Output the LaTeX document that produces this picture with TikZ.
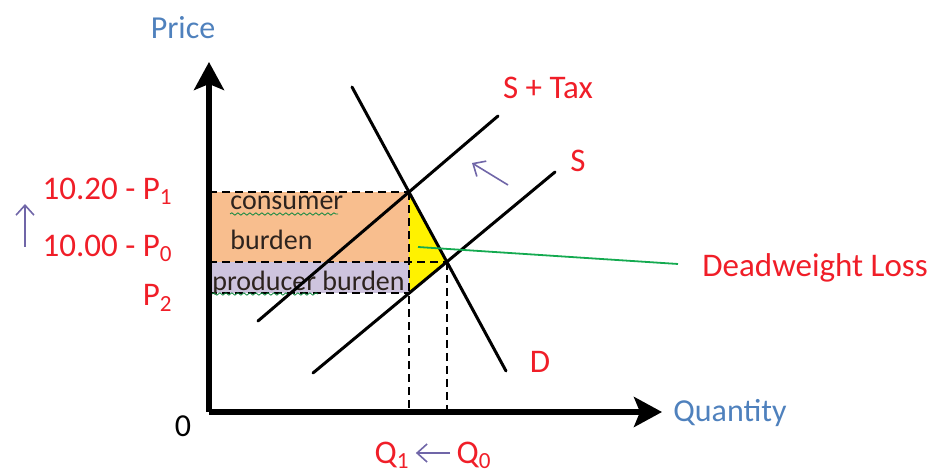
\documentclass[tikz,border=0pt]{standalone}
\usepackage{fontspec}
\setmainfont{Carlito}
\usetikzlibrary{arrows.meta,decorations.pathmorphing,calc}
\definecolor{lblred}{RGB}{240,30,40}
\definecolor{axblue}{RGB}{79,129,189}
\definecolor{arrpurple}{RGB}{112,102,168}
\definecolor{consorange}{RGB}{248,190,142}
\definecolor{prodpurple}{RGB}{206,196,222}
\definecolor{dwlgreen}{RGB}{20,170,80}
\definecolor{boxtext}{RGB}{45,35,30}
\begin{document}
\begin{tikzpicture}[x=0.5pt,y=-0.5pt,
  axis/.style={line width=2.6pt,-{Stealth[length=14pt,width=15pt,inset=3pt]}},
  curve/.style={line width=1.5pt,line cap=round},
  guide/.style={dash pattern=on 4pt off 2.5pt,line width=0.8pt},
  redlbl/.style={text=lblred,font=\fontsize{16.5}{19}\selectfont,inner sep=0pt},
  bluelbl/.style={text=axblue,font=\fontsize{16}{19}\selectfont,inner sep=0pt},
  boxtxt/.style={text=boxtext,font=\fontsize{14}{17}\selectfont,inner sep=0pt},
  shiftarrow/.style={draw=arrpurple,line width=0.8pt,-{Straight Barb[length=5pt,width=9pt]}},
  squiggle/.style={draw=dwlgreen!80!black,line width=0.4pt,decorate,decoration={snake,amplitude=0.6pt,segment length=3pt}}
]
\useasboundingbox (0,0) rectangle (935,474);
% key coordinates
\coordinate (O) at (209,412);
\coordinate (Ytop) at (209,62);
\coordinate (Xend) at (662,412);
\coordinate (D1) at (352,87);
\coordinate (D2) at (506,371);
\coordinate (T1) at (258,321);
\coordinate (T2) at (498,116);
\coordinate (S1) at (313,373);
\coordinate (S2) at (555,172);
\coordinate (E1) at (intersection of D1--D2 and T1--T2);
\coordinate (E0) at (intersection of D1--D2 and S1--S2);
\coordinate (Q1b) at (E1 |- O);
\coordinate (P2pt) at (intersection of S1--S2 and E1--Q1b);
\coordinate (Q0b) at (E0 |- O);
\coordinate (P1a) at (O |- E1);
\coordinate (P0a) at (O |- E0);
\coordinate (P2a) at (O |- P2pt);
% burden areas
\fill[consorange] (P1a) rectangle (E1 |- E0);
\fill[prodpurple] (P0a) rectangle (P2pt);
\fill[yellow] (E1) -- (E0) -- (P2pt) -- cycle;
% guides
\draw[guide] (P1a) -- (E1);
\draw[guide] (P0a) -- (E0);
\draw[guide] (P2a) -- (P2pt);
\draw[guide] (E1) -- (Q1b);
\draw[guide] (E0) -- (Q0b);
% box texts
\node[boxtxt,anchor=west] (cons) at (230,203) {consumer};
\node[boxtxt,anchor=west] (burd) at (230,240) {burden};
\node[boxtxt,anchor=west] (prod) at (212,283) {producer burden};
\draw[squiggle] (230,214) -- (338,214);
\draw[squiggle] (212,294) -- (318,294);
% curves
\draw[curve] (D1) -- (D2);
\draw[curve] (T1) -- (T2);
\draw[curve] (S1) -- (S2);
% axes
\draw[axis] (O) -- (Ytop);
\draw[axis] (O) -- (Xend);
% labels
\node[bluelbl] (price) at (183,28) {Price};
\node[bluelbl,anchor=west] (qty) at (673,413) {Quantity};
\node[text=black,font=\fontsize{16}{19}\selectfont,inner sep=0pt] (zero) at (183,426) {0};
\node[redlbl,anchor=east] (p1) at (173,191) {10.20 - P\textsubscript{1}};
\node[redlbl,anchor=east] (p0) at (173,248) {10.00 - P\textsubscript{0}};
\node[redlbl,anchor=east] (p2) at (173,298) {P\textsubscript{2}};
\node[redlbl] (stax) at (548,88) {S + Tax};
\node[redlbl] (slbl) at (578,161) {S};
\node[redlbl] (dlbl) at (540,362) {D};
\node[redlbl,anchor=west] (dwl) at (702,268) {Deadweight Loss};
\node[redlbl] (q1) at (392,455) {Q\textsubscript{1}};
\node[redlbl] (q0) at (474,455) {Q\textsubscript{0}};
% deadweight pointer
\coordinate (dwlstart) at (418,247);
\coordinate (dwlend) at (678,264);
\draw[dwlgreen,line width=0.9pt] (dwlstart) -- (dwlend);
% shift arrows
\coordinate (upA) at (25,247);
\coordinate (upB) at (25,204);
\draw[shiftarrow] (upA) -- (upB);
\coordinate (shA) at (508,185);
\coordinate (shB) at (472,163);
\draw[shiftarrow] (shA) -- (shB);
\draw[shiftarrow] ($(q0.west)+(-6,-2)$) -- ($(q1.east)+(6,-2)$);
\end{tikzpicture}
\end{document}
